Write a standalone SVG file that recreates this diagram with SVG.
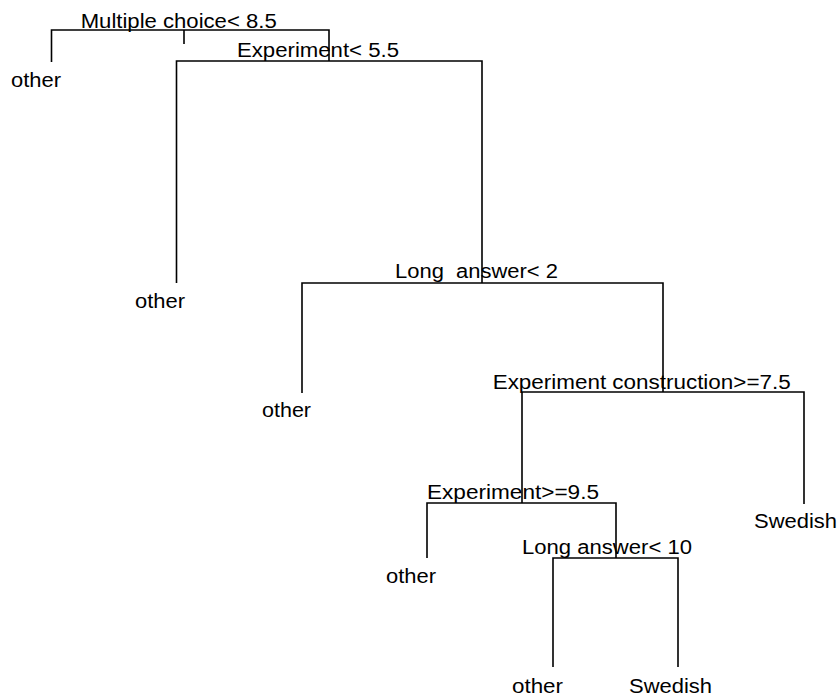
<svg xmlns="http://www.w3.org/2000/svg" width="839" height="696" viewBox="0 0 839 696">
<style>
.e{stroke:#000;stroke-width:1.6;fill:none;stroke-linecap:butt}
text{font-family:"Liberation Sans",Arial,sans-serif;font-size:19.5px;fill:#000}
</style>
<rect width="839" height="696" fill="#fff"/>
<g id="connectors">
<path class="e" d="M51.5,62V30H329V61M184,30V44"/>
<path class="e" d="M176.5,283V61H482V283"/>
<path class="e" d="M302,393V283H663V392"/>
<path class="e" d="M522,503V392H804V504"/>
<path class="e" d="M427,558V503H616V558"/>
<path class="e" d="M553,667V558H678V667"/>
</g>
<g id="n1"><text x="80.7" y="28" textLength="196" lengthAdjust="spacingAndGlyphs">Multiple choice&lt; 8.5</text></g>
<g id="n2"><text x="11" y="86.7" textLength="50" lengthAdjust="spacingAndGlyphs">other</text></g>
<g id="n3"><text x="237" y="57" textLength="162" lengthAdjust="spacingAndGlyphs">Experiment&lt; 5.5</text></g>
<g id="n4"><text x="135" y="308" textLength="50" lengthAdjust="spacingAndGlyphs">other</text></g>
<g id="n5"><text x="395" y="278" textLength="163" lengthAdjust="spacingAndGlyphs" xml:space="preserve">Long  answer&lt; 2</text></g>
<g id="n6"><text x="262" y="417" textLength="49" lengthAdjust="spacingAndGlyphs">other</text></g>
<g id="n7"><text x="492.7" y="389" textLength="298" lengthAdjust="spacingAndGlyphs">Experiment construction&gt;=7.5</text></g>
<g id="n8"><text x="754" y="528" textLength="83" lengthAdjust="spacingAndGlyphs">Swedish</text></g>
<g id="n9"><text x="427" y="499" textLength="172" lengthAdjust="spacingAndGlyphs">Experiment&gt;=9.5</text></g>
<g id="n10"><text x="386" y="583" textLength="50" lengthAdjust="spacingAndGlyphs">other</text></g>
<g id="n11"><text x="522" y="554" textLength="170" lengthAdjust="spacingAndGlyphs">Long answer&lt; 10</text></g>
<g id="n12"><text x="512" y="693" textLength="51" lengthAdjust="spacingAndGlyphs">other</text></g>
<g id="n13"><text x="629" y="693" textLength="83" lengthAdjust="spacingAndGlyphs">Swedish</text></g>
</svg>
